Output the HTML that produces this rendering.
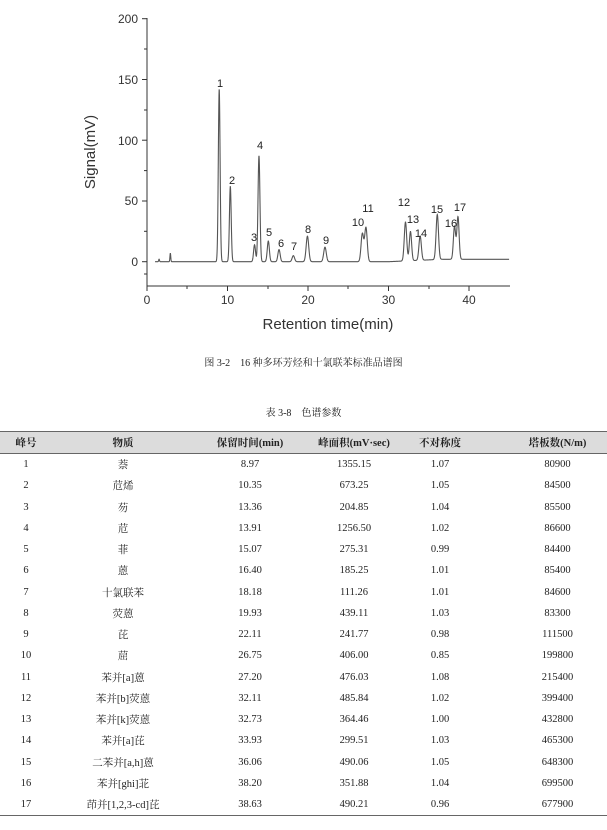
<!DOCTYPE html>
<html><head><meta charset="utf-8"><style>
body{margin:0;width:607px;height:830px;background:#fff;position:relative;overflow:hidden;font-family:"Liberation Serif","Noto Serif CJK SC","Noto Sans CJK SC",serif;color:#222}
.cap{position:absolute;left:0;width:607px;text-align:center;font-size:10px}
table{position:absolute;left:0;top:431px;width:607px;border-collapse:collapse;font-size:10.5px}
th{background:#dcdcdc;height:21px;font-weight:bold;border-top:1.5px solid #666;border-bottom:1.5px solid #666;padding:0}
td{height:21.25px;text-align:center;padding:0}
tr:last-child td{border-bottom:1.5px solid #666}
th:last-child,td:last-child{padding-left:30px}
</style></head><body>
<svg width="607" height="345" style="position:absolute;left:0;top:0" font-family="Liberation Sans, sans-serif">
<g stroke="#333" stroke-width="1" fill="none">
<line x1="147" y1="18" x2="147" y2="286"/>
<line x1="147" y1="286" x2="510" y2="286"/>
<line x1="142" y1="18.7" x2="147" y2="18.7"/><line x1="144" y1="49" x2="147" y2="49"/>
<line x1="142" y1="79.5" x2="147" y2="79.5"/><line x1="144" y1="110" x2="147" y2="110"/>
<line x1="142" y1="140.2" x2="147" y2="140.2"/><line x1="144" y1="170.6" x2="147" y2="170.6"/>
<line x1="142" y1="201" x2="147" y2="201"/><line x1="144" y1="231.3" x2="147" y2="231.3"/>
<line x1="142" y1="261.7" x2="147" y2="261.7"/><line x1="144" y1="274" x2="147" y2="274"/>
<line x1="147" y1="286" x2="147" y2="291"/><line x1="187" y1="286" x2="187" y2="289"/>
<line x1="227.5" y1="286" x2="227.5" y2="291"/><line x1="268" y1="286" x2="268" y2="289"/>
<line x1="308" y1="286" x2="308" y2="291"/><line x1="348" y1="286" x2="348" y2="289"/>
<line x1="388.5" y1="286" x2="388.5" y2="291"/><line x1="429" y1="286" x2="429" y2="289"/>
<line x1="469" y1="286" x2="469" y2="291"/>
</g>
<g font-size="12" fill="#333" text-anchor="end">
<text x="138" y="23">200</text><text x="138" y="84">150</text><text x="138" y="145">100</text>
<text x="138" y="205">50</text><text x="138" y="266">0</text></g>
<g font-size="12" fill="#333" text-anchor="middle">
<text x="147" y="304">0</text><text x="227.5" y="304">10</text><text x="308" y="304">20</text>
<text x="388.5" y="304">30</text><text x="469" y="304">40</text></g>
<text x="328" y="329" font-size="15" fill="#333" text-anchor="middle">Retention time(min)</text>
<text transform="translate(95,152) rotate(-90)" font-size="15" fill="#333" text-anchor="middle">Signal(mV)</text>
<path id="trace" fill="none" stroke="#555" stroke-width="1.1"/>
<g font-size="11" fill="#222" text-anchor="middle">
<text x="220" y="87">1</text><text x="232" y="184">2</text><text x="254" y="241">3</text>
<text x="260" y="149">4</text><text x="269" y="236">5</text><text x="281" y="247">6</text>
<text x="294" y="250">7</text><text x="308" y="233">8</text><text x="326" y="244">9</text>
<text x="358" y="226">10</text><text x="368" y="212">11</text><text x="404" y="206">12</text>
<text x="413" y="223">13</text><text x="421" y="237">14</text><text x="437" y="213">15</text>
<text x="451" y="227">16</text><text x="460" y="211">17</text></g>
</svg>
<script>
(function(){
var pk=[[1.5,2,0.05],[2.9,7,0.05],[8.97,142,0.11],[10.35,62,0.11],[13.36,14,0.12],[13.91,87,0.12],[15.07,17,0.13],[16.4,10,0.14],[18.18,5,0.15],[19.93,21,0.16],[22.11,12,0.16],[26.75,23,0.16],[27.2,28,0.16],[32.11,32,0.15],[32.73,24,0.14],[33.93,20,0.15],[36.06,37,0.15],[38.2,27,0.14],[38.63,35,0.14]];
var d="";
for(var t=1.0;t<=45;t+=0.02){
 var y=0; if(t>30) y+=Math.min(2,(t-30)*0.3);
 for(var i=0;i<pk.length;i++){var p=pk[i];var z=(t-p[0])/p[2];if(Math.abs(z)<6)y+=p[1]*Math.exp(-0.5*z*z);}
 var X=147+t*8.05, Y=261.7-y*1.215;
 d+=(d?"L":"M")+X.toFixed(2)+" "+Y.toFixed(2);
}
document.getElementById("trace").setAttribute("d",d);
})();
</script>
<div class="cap" style="top:354px">图 3-2　16 种多环芳烃和十氯联苯标准品谱图</div>
<div class="cap" style="top:404px">表 3-8　色谱参数</div>
<table>
<tr><th style="width:52px">峰号</th><th style="width:142px">物质</th><th style="width:112px">保留时间(min)</th><th style="width:96px">峰面积(mV·sec)</th><th style="width:76px">不对称度</th><th>塔板数(N/m)</th></tr>
<tr><td>1</td><td>萘</td><td>8.97</td><td>1355.15</td><td>1.07</td><td>80900</td></tr>
<tr><td>2</td><td>苊烯</td><td>10.35</td><td>673.25</td><td>1.05</td><td>84500</td></tr>
<tr><td>3</td><td>芴</td><td>13.36</td><td>204.85</td><td>1.04</td><td>85500</td></tr>
<tr><td>4</td><td>苊</td><td>13.91</td><td>1256.50</td><td>1.02</td><td>86600</td></tr>
<tr><td>5</td><td>菲</td><td>15.07</td><td>275.31</td><td>0.99</td><td>84400</td></tr>
<tr><td>6</td><td>蒽</td><td>16.40</td><td>185.25</td><td>1.01</td><td>85400</td></tr>
<tr><td>7</td><td>十氯联苯</td><td>18.18</td><td>111.26</td><td>1.01</td><td>84600</td></tr>
<tr><td>8</td><td>荧蒽</td><td>19.93</td><td>439.11</td><td>1.03</td><td>83300</td></tr>
<tr><td>9</td><td>芘</td><td>22.11</td><td>241.77</td><td>0.98</td><td>111500</td></tr>
<tr><td>10</td><td>䓛</td><td>26.75</td><td>406.00</td><td>0.85</td><td>199800</td></tr>
<tr><td>11</td><td>苯并[a]蒽</td><td>27.20</td><td>476.03</td><td>1.08</td><td>215400</td></tr>
<tr><td>12</td><td>苯并[b]荧蒽</td><td>32.11</td><td>485.84</td><td>1.02</td><td>399400</td></tr>
<tr><td>13</td><td>苯并[k]荧蒽</td><td>32.73</td><td>364.46</td><td>1.00</td><td>432800</td></tr>
<tr><td>14</td><td>苯并[a]芘</td><td>33.93</td><td>299.51</td><td>1.03</td><td>465300</td></tr>
<tr><td>15</td><td>二苯并[a,h]蒽</td><td>36.06</td><td>490.06</td><td>1.05</td><td>648300</td></tr>
<tr><td>16</td><td>苯并[ghi]苝</td><td>38.20</td><td>351.88</td><td>1.04</td><td>699500</td></tr>
<tr><td>17</td><td>茚并[1,2,3-cd]芘</td><td>38.63</td><td>490.21</td><td>0.96</td><td>677900</td></tr>
</table>
</body></html>
